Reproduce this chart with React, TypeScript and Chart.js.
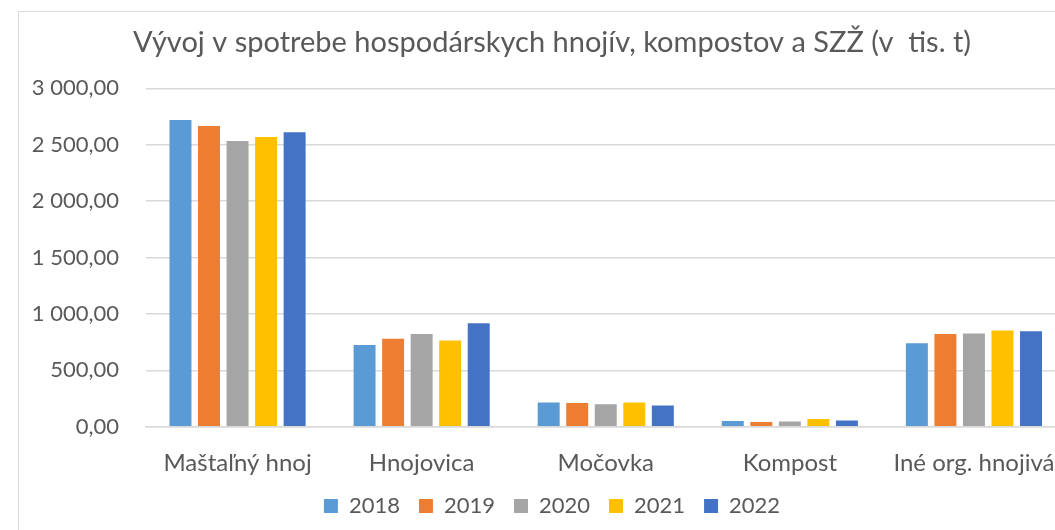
import React, { useEffect, useRef } from "react";
import { Chart, registerables } from "chart.js";

Chart.register(...registerables);

const categories = ["Maštaľný hnoj", "Hnojovica", "Močovka", "Kompost", "Iné org. hnojivá"];
const years = ["2018", "2019", "2020", "2021", "2022"];
const values2018 = [2718, 724, 215, 50, 739];
const values2019 = [2665, 780, 209, 41, 821];
const values2020 = [2533, 821, 200, 47, 827];
const values2021 = [2568, 765, 215, 68, 853];
const values2022 = [2610, 918, 188, 56, 847];
const seriesColors = ["#5B9BD5", "#ED7D31", "#A5A5A5", "#FFC000", "#4472C4"];
const titleText = "Vývoj v spotrebe hospodárskych hnojív, kompostov a SZŽ (v  tis. t)";

const FONT = "Lato, 'Open Sans', sans-serif";
const TEXT = "#595959";
const GRID = "#D9D9D9";

function formatTick(v: number): string {
  const fixed = Math.abs(v).toFixed(2);
  const [intPart, dec] = fixed.split(".");
  const grouped = intPart.replace(/\B(?=(\d{3})+(?!\d))/g, " ");
  return (v < 0 ? "-" : "") + grouped + "," + dec;
}

export default function App() {
  const ref = useRef<HTMLCanvasElement | null>(null);

  useEffect(() => {
    if (!ref.current) return;
    const series = [values2018, values2019, values2020, values2021, values2022];
    const chart = new Chart(ref.current, {
      type: "bar",
      data: {
        labels: categories,
        datasets: years.map((y, i) => ({
          label: y,
          data: series[i],
          backgroundColor: seriesColors[i],
          borderWidth: 0,
          categoryPercentage: 0.775,
          barPercentage: 0.77,
        })),
      },
      options: {
        animation: false,
        responsive: false,
        devicePixelRatio: 1,
        layout: { padding: { left: 0, right: 0, top: 0, bottom: 15 } },
        plugins: {
          title: {
            display: true,
            text: titleText,
            color: TEXT,
            font: { family: FONT, size: 29, weight: "normal" },
            padding: { top: 13, bottom: 28.5 },
          },
          legend: {
            display: true,
            position: "bottom",
            labels: {
              color: TEXT,
              font: { family: FONT, size: 22 },
              boxWidth: 14,
              boxHeight: 14,
              padding: 19,
            },
          },
          tooltip: { enabled: false },
        },
        scales: {
          x: {
            grid: { display: false, drawTicks: false },
            border: { display: true, color: GRID, width: 1.5 },
            ticks: {
              color: TEXT,
              font: { family: FONT, size: 24 },
              padding: 22.5,
              maxRotation: 0,
              autoSkip: false,
            },
            afterFit: (s: any) => {
              s.height = 49.3;
            },
          },
          y: {
            min: 0,
            max: 3000,
            position: "left",
            grid: { color: GRID, lineWidth: 1.5, drawTicks: false },
            border: { display: false },
            ticks: {
              stepSize: 500,
              color: TEXT,
              font: { family: FONT, size: 22 },
              padding: 26.5,
              callback: (v: any) => formatTick(Number(v)),
            },
            afterFit: (s: any) => {
              s.width = 126.5;
            },
          },
          yRight: {
            type: "linear",
            position: "right",
            display: true,
            grid: { display: false, drawTicks: false },
            border: { display: false },
            ticks: { display: false },
            afterFit: (s: any) => {
              s.width = 19;
            },
          },
        },
      } as any,
    });
    return () => chart.destroy();
  }, []);

  return (
    <div
      style={{
        position: "fixed",
        left: 0,
        top: 0,
        width: 1055,
        height: 530,
        overflow: "hidden",
        background: "#fff",
      }}
    >
      <div
        style={{
          position: "absolute",
          left: 18,
          top: 11,
          width: 1066,
          height: 600,
          borderLeft: "1px solid #D9D9D9",
          borderTop: "1px solid #D9D9D9",
          background: "#fff",
        }}
      >
        <canvas ref={ref} width={1066} height={530} style={{ display: "block" }} />
      </div>
    </div>
  );
}
